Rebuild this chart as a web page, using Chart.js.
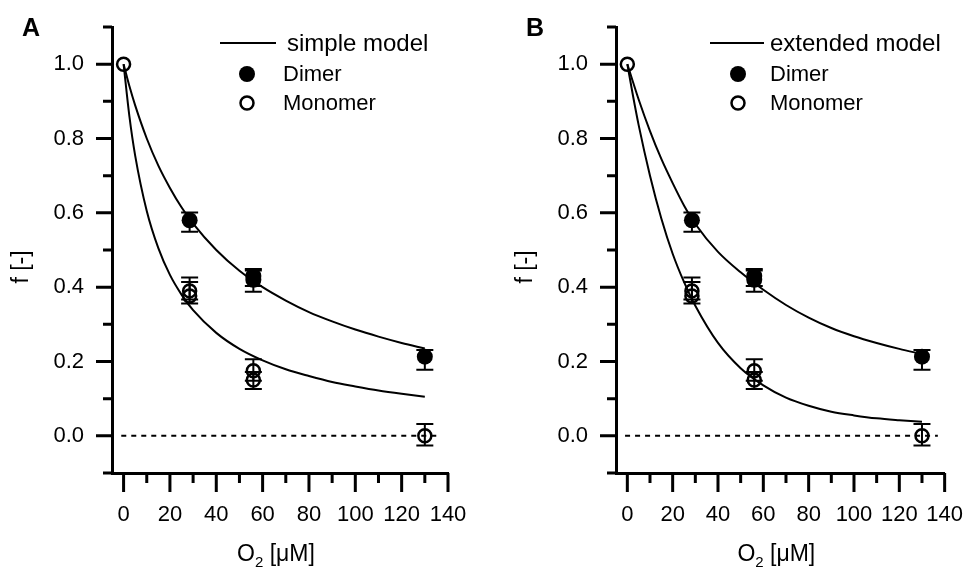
<!DOCTYPE html>
<html>
<head>
<meta charset="utf-8">
<script src="https://cdn.jsdelivr.net/npm/chart.js@4.4.1/dist/chart.umd.min.js"></script>
<style>
  html, body { margin: 0; padding: 0; background: #fff; }
  #wrap { position: relative; width: 973px; height: 569px; }
  canvas { position: absolute; top: 0; }
</style>
</head>
<body>
<div id="wrap">
  <canvas id="chartA" width="504" height="569" style="left:0px"></canvas>
  <canvas id="chartB" width="469" height="569" style="left:504px"></canvas>
</div>
<script>
const FONT = '"Liberation Sans", Arial, sans-serif';

// measured points (identical in both panels)
const dimerX = [28.5, 56, 56, 130];
const dimerY = [0.58, 0.43, 0.42, 0.213];
const dimerLow = [0.549, 0.403, 0.388, 0.178];
const dimerHigh = [0.601, 0.449, 0.445, 0.231];

const monoX = [0, 28.5, 28.5, 56, 56, 130];
const monoY = [1.0, 0.39, 0.376, 0.175, 0.15, 0.0];
const monoLow = [null, 0.367, 0.356, 0.148, 0.126, -0.026];
const monoHigh = [null, 0.426, 0.414, 0.206, 0.172, 0.032];

// model curves
const curveX = [0, 2.5, 5, 10, 15, 20, 25, 30, 40, 50, 60, 70, 80, 90, 100, 110, 120, 130];
const simpleDimer = [1.0, 0.941, 0.889, 0.8, 0.727, 0.667, 0.615, 0.571, 0.5, 0.444, 0.4, 0.364, 0.333, 0.308, 0.286, 0.267, 0.25, 0.235];
const simpleMono = [1.0, 0.86, 0.754, 0.605, 0.505, 0.433, 0.38, 0.338, 0.277, 0.234, 0.203, 0.179, 0.161, 0.145, 0.133, 0.122, 0.113, 0.105];
const extDimer = [1.0, 0.952, 0.905, 0.82, 0.745, 0.68, 0.62, 0.57, 0.495, 0.44, 0.393, 0.352, 0.318, 0.29, 0.268, 0.25, 0.234, 0.22];
const extMono = [1.0, 0.915, 0.836, 0.7, 0.585, 0.49, 0.414, 0.35, 0.25, 0.182, 0.136, 0.103, 0.081, 0.065, 0.055, 0.047, 0.042, 0.038];

const zeroLineX = [-1, 137];
const zeroLineY = [0, 0];

const xTicks = [0, 20, 40, 60, 80, 100, 120, 140];
const xMinorTicks = [10, 30, 50, 70, 90, 110, 130];
const yTicks = [0, 0.2, 0.4, 0.6, 0.8, 1.0];
const yMinorTicks = [-0.1, 0.1, 0.3, 0.5, 0.7, 0.9, 1.1];

// error bars, axis ticks, legend and titles
function makeDecor(cfg) {
  return {
    id: 'decor',
    beforeDatasetsDraw(chart) {
      const { ctx, scales: { x, y } } = chart;
      ctx.save();
      ctx.strokeStyle = '#000';
      ctx.lineWidth = 2;
      [[dimerX, dimerLow, dimerHigh], [monoX, monoLow, monoHigh]].forEach(([xs, lo, hi]) => {
        xs.forEach((xv, i) => {
          if (lo[i] === null) return;
          const px = x.getPixelForValue(xv);
          const pl = y.getPixelForValue(lo[i]);
          const ph = y.getPixelForValue(hi[i]);
          ctx.beginPath();
          ctx.moveTo(px, pl); ctx.lineTo(px, ph);
          ctx.moveTo(px - 8.5, pl); ctx.lineTo(px + 8.5, pl);
          ctx.moveTo(px - 8.5, ph); ctx.lineTo(px + 8.5, ph);
          ctx.stroke();
        });
      });
      ctx.restore();
    },
    afterDraw(chart) {
      const { ctx, chartArea: area, scales: { x, y } } = chart;
      const L = area.left;
      ctx.save();
      ctx.strokeStyle = '#000';
      ctx.fillStyle = '#000';
      ctx.lineWidth = 3;

      // ticks
      ctx.beginPath();
      yTicks.forEach(v => { const py = y.getPixelForValue(v); ctx.moveTo(L - 16, py); ctx.lineTo(L, py); });
      yMinorTicks.forEach(v => { const py = y.getPixelForValue(v); ctx.moveTo(L - 9, py); ctx.lineTo(L, py); });
      xTicks.forEach(v => { const px = x.getPixelForValue(v); ctx.moveTo(px, area.bottom); ctx.lineTo(px, area.bottom + 19); });
      xMinorTicks.forEach(v => { const px = x.getPixelForValue(v); ctx.moveTo(px, area.bottom); ctx.lineTo(px, area.bottom + 10); });
      ctx.stroke();

      // panel letter
      ctx.font = 'bold 25px ' + FONT;
      ctx.textAlign = 'left';
      ctx.textBaseline = 'alphabetic';
      ctx.fillText(cfg.letter, 22, 36);

      // y title
      ctx.font = '23px ' + FONT;
      ctx.save();
      ctx.translate(22, 267);
      ctx.rotate(-Math.PI / 2);
      ctx.textAlign = 'center';
      ctx.textBaseline = 'middle';
      ctx.fillText('f [-]', 0, 0);
      ctx.restore();

      // x title with subscript
      const big = '23px ' + FONT, small = '15px ' + FONT;
      ctx.font = big; const wO = ctx.measureText('O').width;
      const wRest = ctx.measureText(' [\u03bcM]').width;
      ctx.font = small; const w2 = ctx.measureText('2').width;
      const total = wO + w2 + wRest;
      let tx = (area.left + area.right) / 2 - 4 - total / 2;
      ctx.textAlign = 'left';
      ctx.textBaseline = 'alphabetic';
      ctx.font = big; ctx.fillText('O', tx, 561); tx += wO;
      ctx.font = small; ctx.fillText('2', tx, 567); tx += w2;
      ctx.font = big; ctx.fillText(' [\u03bcM]', tx, 561);

      // legend
      ctx.lineWidth = 2;
      ctx.beginPath();
      ctx.moveTo(L + cfg.lineX0, 43); ctx.lineTo(L + cfg.lineX1, 43);
      ctx.stroke();
      ctx.textBaseline = 'middle';
      ctx.font = '24px ' + FONT;
      ctx.fillText(cfg.modelLabel, L + cfg.modelTextX, 44);
      ctx.font = '22px ' + FONT;
      ctx.fillText('Dimer', L + cfg.textX, 75);
      ctx.fillText('Monomer', L + cfg.textX, 104);
      ctx.beginPath();
      ctx.arc(L + cfg.markX, 74, 8, 0, Math.PI * 2);
      ctx.fill();
      ctx.lineWidth = 2.5;
      ctx.beginPath();
      ctx.arc(L + cfg.markX, 103, 6.5, 0, Math.PI * 2);
      ctx.stroke();
      ctx.restore();
    }
  };
}

function toPoints(xs, ys) {
  return xs.map((x, i) => ({ x: x, y: ys[i] }));
}

function makePanel(canvasId, cfg) {
  const ctx = document.getElementById(canvasId).getContext('2d');
  return new Chart(ctx, {
    type: 'scatter',
    data: {
      datasets: [
        {
          data: toPoints(zeroLineX, zeroLineY),
          showLine: true,
          borderColor: '#000',
          borderWidth: 2,
          borderDash: [5, 5],
          pointRadius: 0,
        },
        {
          data: toPoints(curveX, cfg.dimerCurve),
          showLine: true,
          borderColor: '#000',
          borderWidth: 2,
          pointRadius: 0,
          cubicInterpolationMode: 'monotone',
        },
        {
          data: toPoints(curveX, cfg.monoCurve),
          showLine: true,
          borderColor: '#000',
          borderWidth: 2,
          pointRadius: 0,
          cubicInterpolationMode: 'monotone',
        },
        {
          label: 'Dimer',
          data: toPoints(dimerX, dimerY),
          pointRadius: 8,
          pointBackgroundColor: '#000',
          pointBorderWidth: 0,
        },
        {
          label: 'Monomer',
          data: toPoints(monoX, monoY),
          pointRadius: 6.5,
          pointBackgroundColor: 'rgba(0,0,0,0)',
          pointBorderColor: '#000',
          pointBorderWidth: 2.5,
        },
      ],
    },
    options: {
      responsive: false,
      animation: false,
      events: [],
      layout: { padding: { left: 0, right: cfg.padRight, top: 27, bottom: 0 } },
      plugins: {
        legend: { display: false },
        tooltip: { enabled: false },
      },
      scales: {
        x: {
          type: 'linear',
          min: -5,
          max: 140,
          afterBuildTicks: s => { s.ticks = xTicks.map(v => ({ value: v })); },
          afterFit: s => { s.height = 96; },
          grid: { display: true, drawOnChartArea: false, drawTicks: true, tickLength: 19, color: 'rgba(0,0,0,0)' },
          border: { display: true, color: '#000', width: 3 },
          ticks: {
            color: '#000',
            font: { family: FONT, size: 22 },
            padding: 10,
            maxRotation: 0,
            autoSkip: false,
            callback: v => String(v),
          },
        },
        y: {
          type: 'linear',
          min: -0.1,
          max: 1.1,
          afterBuildTicks: s => { s.ticks = yTicks.map(v => ({ value: v })); },
          afterFit: s => { s.width = 112; },
          grid: { display: true, drawOnChartArea: false, drawTicks: true, tickLength: 16, color: 'rgba(0,0,0,0)' },
          border: { display: true, color: '#000', width: 3 },
          ticks: {
            color: '#000',
            font: { family: FONT, size: 22 },
            padding: 12,
            autoSkip: false,
            callback: v => v.toFixed(1),
          },
        },
      },
    },
    plugins: [makeDecor(cfg)],
  });
}

makePanel('chartA', {
  letter: 'A',
  modelLabel: 'simple model',
  dimerCurve: simpleDimer,
  monoCurve: simpleMono,
  padRight: 56,
  lineX0: 108, lineX1: 164,
  modelTextX: 175, textX: 171, markX: 135,
});

makePanel('chartB', {
  letter: 'B',
  modelLabel: 'extended model',
  dimerCurve: extDimer,
  monoCurve: extMono,
  padRight: 22,
  lineX0: 94, lineX1: 148,
  modelTextX: 154, textX: 154, markX: 122,
});
</script>
</body>
</html>
